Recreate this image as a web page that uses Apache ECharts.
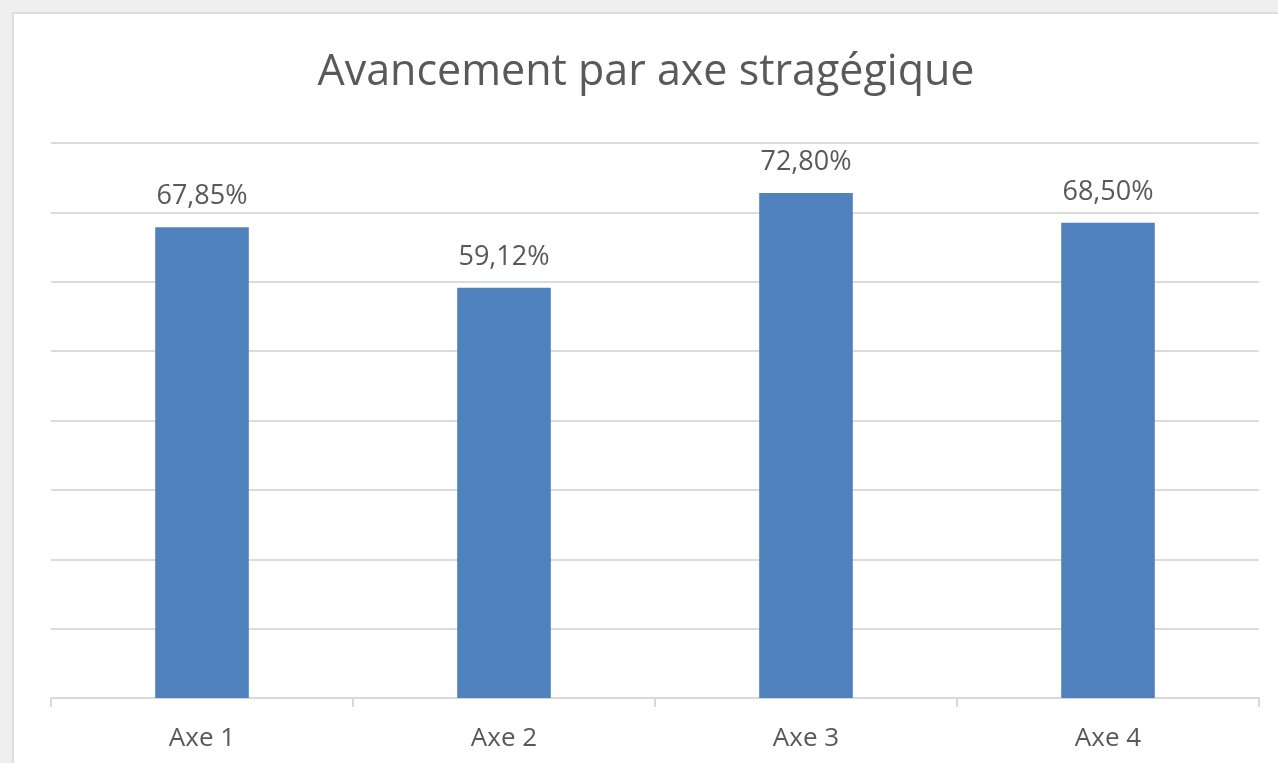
<!DOCTYPE html>
<html>
<head>
<meta charset="utf-8">
<script src="https://cdn.jsdelivr.net/npm/echarts@6/dist/echarts.min.js"></script>
<style>
  html, body { margin: 0; padding: 0; background: #efefef; width: 1278px; height: 763px; overflow: hidden; }
  .card {
    position: absolute;
    left: 12px;
    top: 12px;
    width: 1266px;
    height: 751px;
    background: #fff;
    border-left: 2px solid #dedede;
    border-top: 2px solid #dedede;
    box-sizing: border-box;
  }
  #chart { width: 100%; height: 100%; }
</style>
</head>
<body>
<div class="card"><div id="chart"></div></div>
<script>
  // données
  const categories = ['Axe 1', 'Axe 2', 'Axe 3', 'Axe 4']
  const avancement = [67.85, 59.12, 72.80, 68.50]

  const chart = echarts.init(document.getElementById('chart'))
  const textColor = '#595959'
  const font = '"Open Sans", "Liberation Sans", sans-serif'

  chart.setOption({
    animation: false,
    title: {
      text: 'Avancement par axe stragégique',
      left: 'center',
      top: 32,
      textStyle: { fontFamily: font, fontSize: 43, fontWeight: 'normal', color: textColor }
    },
    grid: { left: 37, right: 19, top: 129, bottom: 65 },
    xAxis: {
      type: 'category',
      data: categories,
      axisLine: { lineStyle: { color: '#d9d9d9', width: 2 } },
      axisTick: { show: true, length: 9, lineStyle: { color: '#d9d9d9', width: 2 } },
      axisLabel: { color: textColor, fontFamily: font, fontSize: 26, margin: 28 }
    },
    yAxis: {
      type: 'value',
      min: 0,
      max: 80,
      interval: 10,
      axisLabel: { show: false },
      axisLine: { show: false },
      axisTick: { show: false },
      splitLine: { lineStyle: { color: '#dcdcdc', width: 2 } }
    },
    series: [{
      type: 'bar',
      data: avancement,
      barWidth: '31%',
      itemStyle: { color: '#4f81bd' },
      label: {
        show: true,
        position: 'top',
        distance: 17,
        color: textColor,
        fontFamily: font,
        fontSize: 27,
        formatter: p => p.value.toFixed(2).replace('.', ',') + '%'
      }
    }]
  })
</script>
</body>
</html>
